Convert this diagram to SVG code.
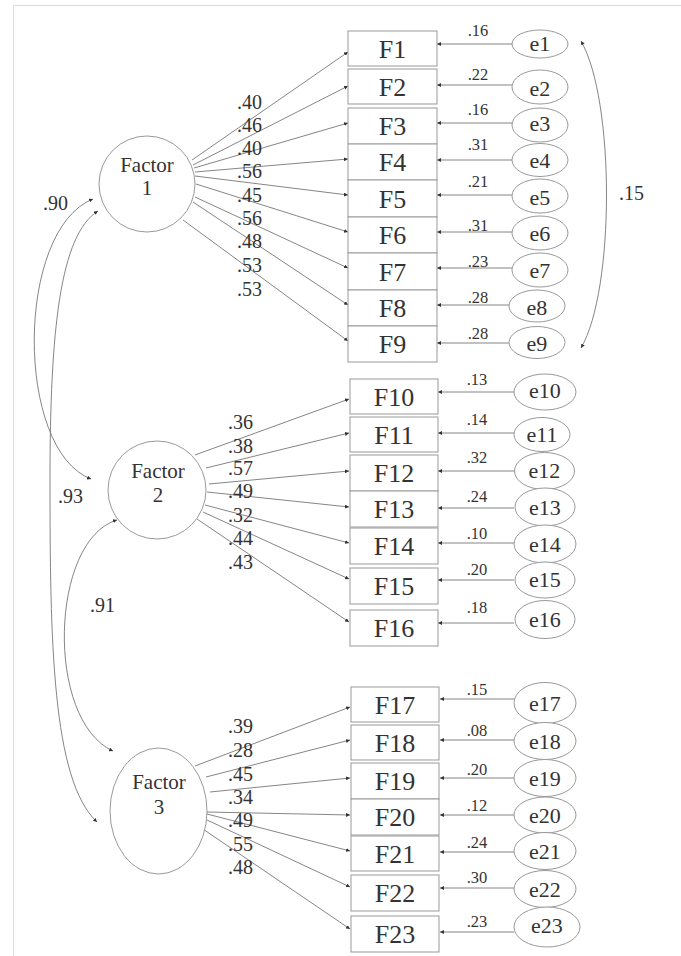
<svg xmlns="http://www.w3.org/2000/svg" width="681" height="956" viewBox="0 0 681 956" font-family="'Liberation Serif', 'Times New Roman', serif">
<defs>
<marker id="ah" viewBox="0 0 6 6" refX="6" refY="3" markerWidth="4" markerHeight="4" orient="auto-start-reverse" markerUnits="userSpaceOnUse"><path d="M0,0 L6,3 L0,6 z" fill="#333"/></marker>
<style>
.frame{stroke:#ddd;stroke-width:1;fill:none}
.box{fill:#fff;stroke:#999;stroke-width:1}
.lat{fill:#fff;stroke:#999;stroke-width:1}
.err{fill:#fff;stroke:#999;stroke-width:1}
.ln{stroke:#777;stroke-width:0.9;fill:none;marker-end:url(#ah)}
.cv{stroke:#777;stroke-width:0.9;fill:none;marker-end:url(#ah);marker-start:url(#ah)}
text{fill:#333;font-family:"Liberation Serif","Times New Roman",serif}
.bt{font-size:26px;text-anchor:middle}
.ft{font-size:21px;text-anchor:middle}
.et{font-size:22px;text-anchor:middle}
.ll{font-size:20px}
.el{font-size:16.5px;text-anchor:middle}
</style>
</defs>
<rect width="681" height="956" fill="#fff"/>
<path class="frame" d="M13.5,956 L13.5,5.5 L681,5.5"/>

<g id="connectors">
<line class="ln" x1="192" y1="160" x2="348" y2="52"/>
<line class="ln" x1="193" y1="165" x2="348" y2="86"/>
<line class="ln" x1="194" y1="168" x2="348" y2="123"/>
<line class="ln" x1="195" y1="172" x2="348" y2="159"/>
<line class="ln" x1="195" y1="176" x2="348" y2="195"/>
<line class="ln" x1="196" y1="184" x2="348" y2="232"/>
<line class="ln" x1="195" y1="197" x2="348" y2="268"/>
<line class="ln" x1="193" y1="202" x2="348" y2="305"/>
<line class="ln" x1="183" y1="220" x2="348" y2="341"/>
<line class="ln" x1="195" y1="455" x2="349" y2="399"/>
<line class="ln" x1="206" y1="468" x2="349" y2="433"/>
<line class="ln" x1="209" y1="484" x2="349" y2="471"/>
<line class="ln" x1="207" y1="492" x2="349" y2="507"/>
<line class="ln" x1="205" y1="505" x2="349" y2="543"/>
<line class="ln" x1="203" y1="512" x2="349" y2="579"/>
<line class="ln" x1="197" y1="519" x2="349" y2="622"/>
<line class="ln" x1="195" y1="766" x2="350" y2="707"/>
<line class="ln" x1="206" y1="777" x2="350" y2="740"/>
<line class="ln" x1="210" y1="792" x2="350" y2="778"/>
<line class="ln" x1="207" y1="812" x2="350" y2="815"/>
<line class="ln" x1="207" y1="814" x2="350" y2="851"/>
<line class="ln" x1="207" y1="820" x2="350" y2="887"/>
<line class="ln" x1="197" y1="825" x2="350" y2="929"/>
<line class="ln" x1="512" y1="44" x2="437" y2="44"/>
<line class="ln" x1="512" y1="85" x2="437" y2="85"/>
<line class="ln" x1="512" y1="123" x2="437" y2="123"/>
<line class="ln" x1="512" y1="160" x2="437" y2="160"/>
<line class="ln" x1="512" y1="195" x2="437" y2="195"/>
<line class="ln" x1="512" y1="232" x2="437" y2="232"/>
<line class="ln" x1="512" y1="268" x2="437" y2="268"/>
<line class="ln" x1="509" y1="305" x2="437" y2="305"/>
<line class="ln" x1="509" y1="343" x2="437" y2="343"/>
<line class="ln" x1="514" y1="392" x2="438" y2="392"/>
<line class="ln" x1="514" y1="433" x2="438" y2="433"/>
<line class="ln" x1="514" y1="471" x2="438" y2="471"/>
<line class="ln" x1="514" y1="508" x2="438" y2="508"/>
<line class="ln" x1="514" y1="543" x2="438" y2="543"/>
<line class="ln" x1="514" y1="580" x2="438" y2="580"/>
<line class="ln" x1="514" y1="623" x2="438" y2="623"/>
<line class="ln" x1="514" y1="699" x2="440" y2="699"/>
<line class="ln" x1="514" y1="740" x2="440" y2="740"/>
<line class="ln" x1="514" y1="778" x2="440" y2="778"/>
<line class="ln" x1="514" y1="815" x2="440" y2="815"/>
<line class="ln" x1="514" y1="852" x2="440" y2="852"/>
<line class="ln" x1="514" y1="888" x2="440" y2="888"/>
<line class="ln" x1="514" y1="932" x2="440" y2="932"/>
<path class="cv" d="M93,199 C15,230 15,450 91,479"/>
<path class="cv" d="M98,211 C60,235 50,330 50,480 C50,640 52,780 97,822"/>
<path class="cv" d="M117,520 C50,540 45,720 113,751"/>
<path class="cv" d="M581,41 C615,100 615,290 581,348"/>
</g>

<g id="cov-labels">
<text class="ll" x="43" y="210">.90</text>
<text class="ll" x="58" y="503">.93</text>
<text class="ll" x="90" y="612">.91</text>
<text class="ll" x="619" y="200">.15</text>
</g>

<g id="loading-labels">
<text class="ll" x="237" y="109">.40</text>
<text class="ll" x="237" y="132">.46</text>
<text class="ll" x="237" y="155">.40</text>
<text class="ll" x="237" y="178">.56</text>
<text class="ll" x="237" y="202">.45</text>
<text class="ll" x="237" y="225">.56</text>
<text class="ll" x="237" y="248">.48</text>
<text class="ll" x="237" y="272">.53</text>
<text class="ll" x="237" y="296">.53</text>
<text class="ll" x="228" y="429">.36</text>
<text class="ll" x="228" y="453">.38</text>
<text class="ll" x="228" y="475">.57</text>
<text class="ll" x="228" y="498">.49</text>
<text class="ll" x="228" y="522">.32</text>
<text class="ll" x="228" y="545">.44</text>
<text class="ll" x="228" y="569">.43</text>
<text class="ll" x="228" y="733">.39</text>
<text class="ll" x="228" y="757">.28</text>
<text class="ll" x="228" y="781">.45</text>
<text class="ll" x="228" y="804">.34</text>
<text class="ll" x="228" y="827">.49</text>
<text class="ll" x="228" y="851">.55</text>
<text class="ll" x="228" y="874">.48</text>
</g>

<g id="error-labels">
<text class="el" x="478" y="36">.16</text>
<text class="el" x="478" y="80">.22</text>
<text class="el" x="478" y="115">.16</text>
<text class="el" x="478" y="150">.31</text>
<text class="el" x="478" y="187">.21</text>
<text class="el" x="478" y="231">.31</text>
<text class="el" x="478" y="267">.23</text>
<text class="el" x="478" y="303">.28</text>
<text class="el" x="478" y="339">.28</text>
<text class="el" x="477" y="385">.13</text>
<text class="el" x="477" y="425">.14</text>
<text class="el" x="477" y="463">.32</text>
<text class="el" x="477" y="502">.24</text>
<text class="el" x="477" y="539">.10</text>
<text class="el" x="477" y="575">.20</text>
<text class="el" x="477" y="613">.18</text>
<text class="el" x="477" y="695">.15</text>
<text class="el" x="477" y="736">.08</text>
<text class="el" x="477" y="775">.20</text>
<text class="el" x="477" y="811">.12</text>
<text class="el" x="477" y="848">.24</text>
<text class="el" x="477" y="883">.30</text>
<text class="el" x="477" y="927">.23</text>
</g>

<g id="Factor1"><circle class="lat" cx="147" cy="184" r="48"/><text class="ft" x="147" y="172">Factor</text><text class="ft" x="147" y="195">1</text></g>
<g id="Factor2"><circle class="lat" cx="157" cy="490" r="49"/><text class="ft" x="158" y="478">Factor</text><text class="ft" x="158" y="502">2</text></g>
<g id="Factor3"><ellipse class="lat" cx="158.5" cy="811" rx="48.5" ry="63"/><text class="ft" x="159" y="789">Factor</text><text class="ft" x="159" y="814">3</text></g>

<g id="F1"><rect class="box" x="348" y="31" width="89" height="35"/><text class="bt" x="392.5" y="57.5">F1</text></g>
<g id="F2"><rect class="box" x="348" y="69" width="89" height="35"/><text class="bt" x="392.5" y="95.5">F2</text></g>
<g id="F3"><rect class="box" x="348" y="108" width="89" height="36"/><text class="bt" x="392.5" y="135">F3</text></g>
<g id="F4"><rect class="box" x="348" y="144" width="89" height="36"/><text class="bt" x="392.5" y="171">F4</text></g>
<g id="F5"><rect class="box" x="348" y="180" width="89" height="37"/><text class="bt" x="392.5" y="207.5">F5</text></g>
<g id="F6"><rect class="box" x="348" y="217" width="89" height="36"/><text class="bt" x="392.5" y="244">F6</text></g>
<g id="F7"><rect class="box" x="348" y="253" width="89" height="37"/><text class="bt" x="392.5" y="280.5">F7</text></g>
<g id="F8"><rect class="box" x="348" y="290" width="89" height="36"/><text class="bt" x="392.5" y="317">F8</text></g>
<g id="F9"><rect class="box" x="348" y="326" width="89" height="36"/><text class="bt" x="392.5" y="353">F9</text></g>

<g id="F10"><rect class="box" x="350" y="379" width="88" height="35"/><text class="bt" x="394" y="405.5">F10</text></g>
<g id="F11"><rect class="box" x="350" y="417" width="88" height="35"/><text class="bt" x="394" y="443.5">F11</text></g>
<g id="F12"><rect class="box" x="350" y="455" width="88" height="36"/><text class="bt" x="394" y="482">F12</text></g>
<g id="F13"><rect class="box" x="350" y="491" width="88" height="36"/><text class="bt" x="394" y="518">F13</text></g>
<g id="F14"><rect class="box" x="350" y="528" width="88" height="36"/><text class="bt" x="394" y="555">F14</text></g>
<g id="F15"><rect class="box" x="350" y="568" width="88" height="36"/><text class="bt" x="394" y="595">F15</text></g>
<g id="F16"><rect class="box" x="350" y="610" width="88" height="36"/><text class="bt" x="394" y="637">F16</text></g>

<g id="F17"><rect class="box" x="351" y="687" width="88" height="35"/><text class="bt" x="395" y="713.5">F17</text></g>
<g id="F18"><rect class="box" x="351" y="725" width="88" height="35"/><text class="bt" x="395" y="751.5">F18</text></g>
<g id="F19"><rect class="box" x="351" y="763" width="88" height="36"/><text class="bt" x="395" y="790">F19</text></g>
<g id="F20"><rect class="box" x="351" y="799" width="88" height="36"/><text class="bt" x="395" y="826">F20</text></g>
<g id="F21"><rect class="box" x="351" y="836" width="88" height="35"/><text class="bt" x="395" y="862.5">F21</text></g>
<g id="F22"><rect class="box" x="351" y="875" width="88" height="36"/><text class="bt" x="395" y="902">F22</text></g>
<g id="F23"><rect class="box" x="351" y="916" width="88" height="36"/><text class="bt" x="395" y="943">F23</text></g>

<g id="e1"><ellipse class="err" cx="540" cy="44" rx="28" ry="14"/><text class="et" x="540" y="51">e1</text></g>
<g id="e2"><ellipse class="err" cx="540" cy="87" rx="28" ry="17"/><text class="et" x="540" y="96">e2</text></g>
<g id="e3"><ellipse class="err" cx="540" cy="125" rx="28" ry="17"/><text class="et" x="540" y="131">e3</text></g>
<g id="e4"><ellipse class="err" cx="540" cy="160" rx="28" ry="16.5"/><text class="et" x="540" y="168">e4</text></g>
<g id="e5"><ellipse class="err" cx="540" cy="196" rx="28" ry="17"/><text class="et" x="540" y="205">e5</text></g>
<g id="e6"><ellipse class="err" cx="540" cy="233" rx="28" ry="17"/><text class="et" x="540" y="241">e6</text></g>
<g id="e7"><ellipse class="err" cx="540" cy="270" rx="28" ry="17"/><text class="et" x="540" y="278">e7</text></g>
<g id="e8"><ellipse class="err" cx="537" cy="306" rx="28" ry="16"/><text class="et" x="537" y="315">e8</text></g>
<g id="e9"><ellipse class="err" cx="537" cy="342.5" rx="28" ry="16"/><text class="et" x="537" y="351">e9</text></g>

<g id="e10"><ellipse class="err" cx="545" cy="392" rx="31" ry="18"/><text class="et" x="545" y="398">e10</text></g>
<g id="e11"><ellipse class="err" cx="542" cy="434.5" rx="28" ry="17"/><text class="et" x="542" y="442">e11</text></g>
<g id="e12"><ellipse class="err" cx="544.5" cy="471" rx="30" ry="18.5"/><text class="et" x="544.5" y="478">e12</text></g>
<g id="e13"><ellipse class="err" cx="545" cy="507" rx="30" ry="19"/><text class="et" x="545" y="515">e13</text></g>
<g id="e14"><ellipse class="err" cx="545" cy="544" rx="31" ry="19"/><text class="et" x="545" y="552">e14</text></g>
<g id="e15"><ellipse class="err" cx="545" cy="580" rx="30" ry="18"/><text class="et" x="545" y="587">e15</text></g>
<g id="e16"><ellipse class="err" cx="545" cy="619.5" rx="30" ry="19"/><text class="et" x="545" y="627">e16</text></g>

<g id="e17"><ellipse class="err" cx="545" cy="703" rx="31" ry="20.5"/><text class="et" x="545" y="711">e17</text></g>
<g id="e18"><ellipse class="err" cx="545" cy="741" rx="31" ry="18.5"/><text class="et" x="545" y="749">e18</text></g>
<g id="e19"><ellipse class="err" cx="545" cy="778" rx="31" ry="18.5"/><text class="et" x="545" y="786">e19</text></g>
<g id="e20"><ellipse class="err" cx="545" cy="815" rx="31" ry="18"/><text class="et" x="545" y="823">e20</text></g>
<g id="e21"><ellipse class="err" cx="545" cy="851" rx="31" ry="18.5"/><text class="et" x="545" y="859">e21</text></g>
<g id="e22"><ellipse class="err" cx="545" cy="889" rx="31" ry="18.5"/><text class="et" x="545" y="897">e22</text></g>
<g id="e23"><ellipse class="err" cx="547" cy="927" rx="33" ry="20"/><text class="et" x="547" y="933">e23</text></g>
</svg>
